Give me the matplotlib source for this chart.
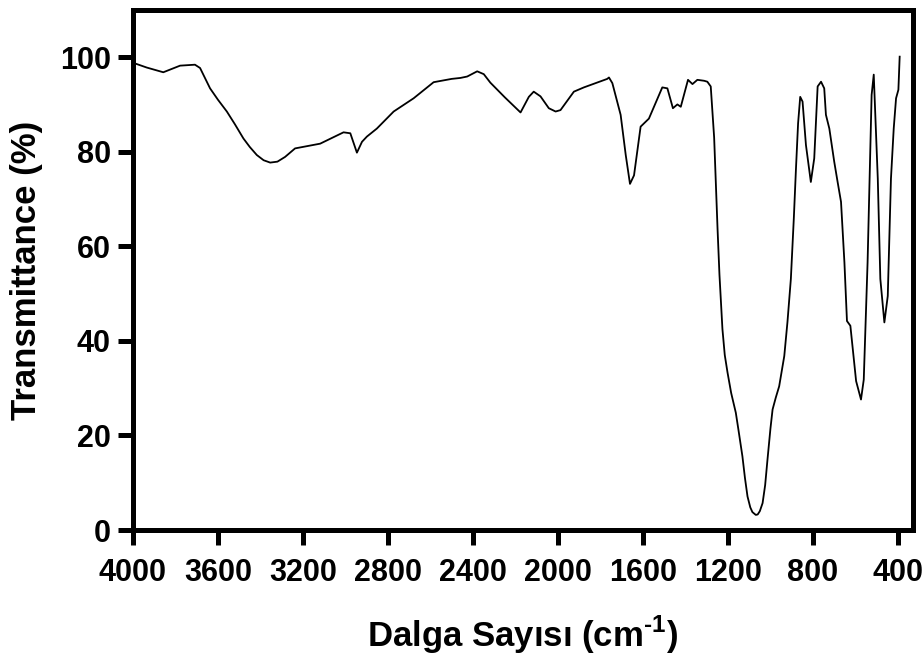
import matplotlib
matplotlib.use("Agg")
import matplotlib.pyplot as plt

# FTIR spectrum
wavenumber = [4000, 3986, 3935, 3857, 3778, 3708, 3684, 3637, 3600, 3558,
              3520, 3480, 3450, 3417, 3385, 3354, 3320, 3284, 3237, 3119,
              3009, 2977, 2946, 2922, 2899, 2852, 2773, 2679, 2585, 2500,
              2459, 2427, 2380, 2349, 2318, 2250, 2176, 2137, 2114, 2082,
              2043, 2011, 1988, 1925, 1878, 1768, 1760, 1744, 1705, 1681,
              1661, 1642, 1611, 1572, 1509, 1485, 1459, 1438, 1422, 1388,
              1367, 1344, 1312, 1297, 1281, 1265, 1249, 1240, 1226, 1215,
              1202, 1185, 1163, 1150, 1132, 1120, 1108, 1095, 1085, 1069,
              1060, 1050, 1037, 1025, 1014, 1000, 990, 975, 959, 935,
              920, 904, 890, 880, 870, 860, 849, 833, 810, 794,
              778, 762, 747, 739, 723, 700, 684, 668, 652, 640,
              624, 597, 574, 561, 543, 524, 514, 495, 483, 464,
              448, 433, 420, 409, 398, 392]
transmittance = [98.5, 98.6, 97.8, 96.8, 98.2, 98.4, 97.7, 93.4, 91.0, 88.5,
                 85.8, 82.8, 81.0, 79.3, 78.2, 77.7, 77.9, 78.9, 80.7, 81.7,
                 84.1, 83.9, 79.8, 82.1, 83.2, 84.9, 88.5, 91.3, 94.7, 95.4,
                 95.6, 95.9, 97.0, 96.4, 94.6, 91.5, 88.3, 91.6, 92.7, 91.7,
                 89.2, 88.5, 88.8, 92.7, 93.6, 95.4, 95.7, 94.5, 87.8, 79.3,
                 73.2, 75.0, 85.3, 87.0, 93.6, 93.4, 89.2, 90.0, 89.5, 95.2,
                 94.3, 95.2, 95.0, 94.8, 93.8, 83.0, 63.7, 54.0, 42.5, 37.0,
                 33.3, 29.0, 24.8, 21.0, 15.6, 11.0, 7.1, 4.8, 3.8, 3.2,
                 3.3, 4.0, 5.7, 9.5, 14.9, 21.5, 25.5, 28.0, 30.4, 36.8,
                 44.0, 53.1, 66.0, 76.4, 86.0, 91.6, 90.6, 81.4, 73.6, 78.6,
                 93.8, 94.8, 93.4, 87.8, 84.9, 77.9, 73.6, 69.4, 56.6, 44.2,
                 43.2, 31.5, 27.6, 31.8, 56.6, 92.0, 96.3, 74.3, 53.1, 43.9,
                 49.5, 74.3, 84.9, 91.3, 93.1, 100.1]

x_ticks = [4000, 3600, 3200, 2800, 2400, 2000, 1600, 1200, 800, 400]
y_ticks = [0, 20, 40, 60, 80, 100]

plt.rcParams['font.family'] = ['Liberation Sans', 'DejaVu Sans']
plt.rcParams['font.weight'] = 'bold'
plt.rcParams['mathtext.fontset'] = 'custom'
plt.rcParams['mathtext.rm'] = 'Liberation Sans:bold'
plt.rcParams['mathtext.bf'] = 'Liberation Sans:bold'

fig = plt.figure(figsize=(9.23, 6.56), dpi=100)
ax = fig.add_axes([0.144, 0.192, 0.845, 0.793])

ax.plot(wavenumber, transmittance, color='black', linewidth=1.3)

ax.set_xlim(4000, 330)
ax.set_ylim(0, 110)
ax.set_xticks(x_ticks)
ax.set_yticks(y_ticks)
ax.tick_params(axis='both', width=3.6, length=11, labelsize=22)
ax.tick_params(axis='x', pad=9)
ax.tick_params(axis='y', pad=5)
for side in ['left', 'right', 'top', 'bottom']:
    ax.spines[side].set_linewidth(3.6)

ax.set_xlabel('Dalga Sayısı (cm$^{\\text{-1}}$)', fontsize=25, fontweight='bold', labelpad=19)
ax.set_ylabel('Transmittance (%)', fontsize=25, fontweight='bold', labelpad=12)

fig.savefig('out.png', dpi=100)
